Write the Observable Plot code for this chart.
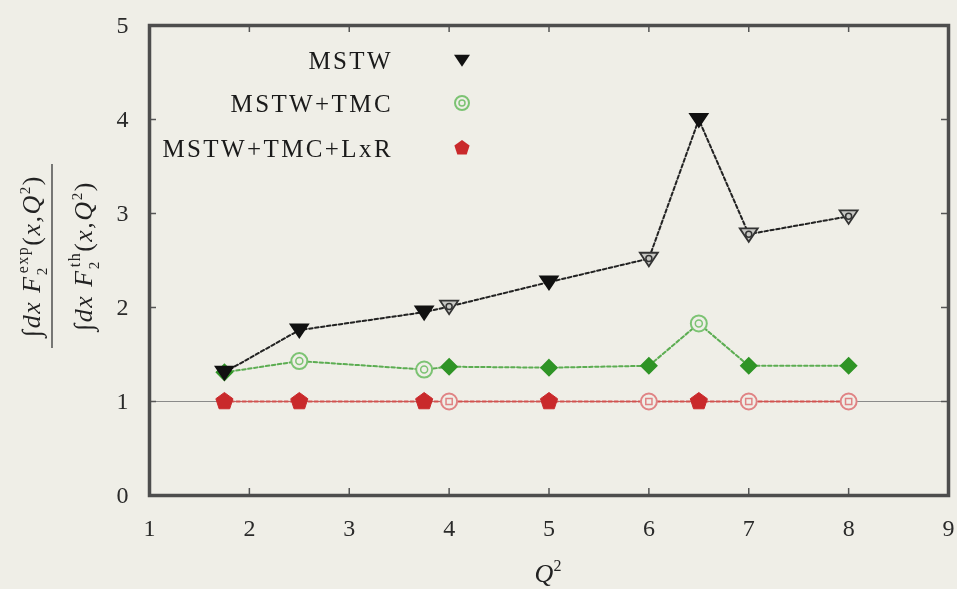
<!DOCTYPE html>
<html>
<head>
<meta charset="utf-8">
<script src="https://cdn.jsdelivr.net/npm/d3@7"></script>
<script src="https://cdn.jsdelivr.net/npm/@observablehq/plot@0.6"></script>
<style>
  html, body { margin: 0; padding: 0; background: #efeee7; }
  #chart { width: 957px; height: 589px; }
  #chart svg { display: block; }
</style>
</head>
<body>
<div id="chart"></div>
<script>
// Q^2 values and the integral ratios for each PDF setup
const q2 = [1.75, 2.5, 3.75, 4, 5, 6, 6.5, 7, 8];
const mstw = [1.31, 1.76, 1.95, 2.01, 2.27, 2.52, 4.0, 2.78, 2.97];
const mstwTmc = [1.31, 1.43, 1.34, 1.37, 1.36, 1.38, 1.83, 1.38, 1.38];
const mstwTmcLxr = [1, 1, 1, 1, 1, 1, 1, 1, 1];
// which points use solid vs open markers
const mstwSolid = [true, true, true, false, true, false, true, false, false];
const tmcSolid = [true, false, false, true, true, true, false, true, true];
const lxrSolid = [true, true, true, false, true, false, true, false, false];

const seriesNames = ["MSTW", "MSTW+TMC", "MSTW+TMC+LxR"];
const xTicks = [1, 2, 3, 4, 5, 6, 7, 8, 9];
const yTicks = [0, 1, 2, 3, 4, 5];
const xInner = [2, 3, 4, 5, 6, 7, 8];
const yInner = [1, 2, 3, 4];

const rows = (vals, solid) => q2.map((q, i) => ({q, v: vals[i], solid: solid[i]}));
const blackRows = rows(mstw, mstwSolid);
const greenRows = rows(mstwTmc, tmcSolid);
const redRows = rows(mstwTmcLxr, lxrSolid);

// custom marker shapes
const triangleDown = {
  draw(ctx, size) {
    const r = Math.sqrt(size / Math.PI);
    ctx.moveTo(-r, -0.65 * r);
    ctx.lineTo(r, -0.65 * r);
    ctx.lineTo(0, 0.85 * r);
    ctx.closePath();
  }
};
const pentagon = {
  draw(ctx, size) {
    const r = Math.sqrt(size / Math.PI);
    for (let k = 0; k < 5; k++) {
      const a = -Math.PI / 2 + k * 2 * Math.PI / 5;
      const px = r * Math.cos(a), py = r * Math.sin(a);
      if (k === 0) ctx.moveTo(px, py); else ctx.lineTo(px, py);
    }
    ctx.closePath();
  }
};
const rhombus = {
  draw(ctx, size) {
    const r = Math.sqrt(size / Math.PI);
    ctx.moveTo(0, -r);
    ctx.lineTo(r, 0);
    ctx.lineTo(0, r);
    ctx.lineTo(-r, 0);
    ctx.closePath();
  }
};

const W = 957, H = 589;
const mL = 149, mR = 9, mT = 25, mB = 94;
const innerH = H - mT - mB;
const innerW = W - mL - mR;

const dash = "3.5,2.5";

const chart = Plot.plot({
  width: W,
  height: H,
  marginLeft: mL,
  marginRight: mR,
  marginTop: mT,
  marginBottom: mB,
  x: {domain: [1, 9]},
  y: {domain: [0, 5]},
  style: {background: "transparent", fontFamily: "'Liberation Serif', serif", color: "#222", overflow: "visible", filter: "blur(0.7px)"},
  marks: [
    Plot.ruleY([1], {stroke: "#8a8a8a", strokeWidth: 1.2}),
    // inward ticks on all four sides
    Plot.tickX(xInner, {x: d => d, insetTop: innerH - 7, stroke: "#555", strokeWidth: 1.5}),
    Plot.tickX(xInner, {x: d => d, insetBottom: innerH - 7, stroke: "#555", strokeWidth: 1.5}),
    Plot.tickY(yInner, {y: d => d, insetRight: innerW - 7, stroke: "#555", strokeWidth: 1.5}),
    Plot.tickY(yInner, {y: d => d, insetLeft: innerW - 7, stroke: "#555", strokeWidth: 1.5}),

    // MSTW+TMC+LxR
    Plot.line(redRows, {x: "q", y: "v", stroke: "#d4514f", strokeWidth: 2, strokeDasharray: dash}),
    Plot.dot(redRows, {filter: d => d.solid, x: "q", y: "v", symbol: pentagon, r: 9, fill: "#c9292b", stroke: "#c9292b", strokeWidth: 1}),
    Plot.dot(redRows, {filter: d => !d.solid, x: "q", y: "v", r: 8, fill: "#efeee7", stroke: "#e08384", strokeWidth: 2}),
    Plot.dot(redRows, {filter: d => !d.solid, x: "q", y: "v", symbol: "square", r: 3.5, fill: "none", stroke: "#e08384", strokeWidth: 1.5}),

    // MSTW+TMC
    Plot.line(greenRows, {x: "q", y: "v", stroke: "#5cad52", strokeWidth: 2, strokeDasharray: dash}),
    Plot.dot(greenRows, {filter: d => d.solid, x: "q", y: "v", symbol: rhombus, r: 8, fill: "#2f9426", stroke: "#2f9426"}),
    Plot.dot(greenRows, {filter: d => !d.solid, x: "q", y: "v", r: 8, fill: "#efeee7", stroke: "#7cc373", strokeWidth: 2}),
    Plot.dot(greenRows, {filter: d => !d.solid, x: "q", y: "v", r: 3.5, fill: "none", stroke: "#7cc373", strokeWidth: 1.5}),

    // MSTW
    Plot.line(blackRows, {x: "q", y: "v", stroke: "#222", strokeWidth: 2, strokeDasharray: dash}),
    Plot.dot(blackRows, {filter: d => d.solid, x: "q", y: "v", symbol: triangleDown, r: 9, fill: "#111", stroke: "#111"}),
    Plot.dot(blackRows, {filter: d => !d.solid, x: "q", y: "v", symbol: triangleDown, r: 9, fill: "#c8c8c4", stroke: "#333", strokeWidth: 1.8}),
    Plot.dot(blackRows, {filter: d => !d.solid, x: "q", y: "v", r: 3, fill: "none", stroke: "#333", strokeWidth: 1.5}),

    Plot.frame({stroke: "#4d4d4d", strokeWidth: 3.5}),
    Plot.axisX(xTicks, {tickSize: 0, tickPadding: 23, fontSize: 24, label: null, tickFormat: d3.format("d"), fill: "#2a2a2a"}),
    Plot.axisY(yTicks, {tickSize: 0, tickPadding: 21, fontSize: 24, label: null, tickFormat: d3.format("d"), fill: "#2a2a2a"})
  ]
});

document.getElementById("chart").appendChild(chart);

const svg = d3.select(chart);
const font = "'Liberation Serif', serif";

// legend
const legend = svg.append("g").attr("font-family", font).attr("font-size", 25).attr("fill", "#1a1a1a");
const legendRows = [
  {name: seriesNames[0], y: 60, kind: "tri"},
  {name: seriesNames[1], y: 103, kind: "circ"},
  {name: seriesNames[2], y: 148, kind: "pent"}
];
legendRows.forEach(row => {
  legend.append("text").attr("x", 393).attr("y", row.y).attr("dy", "0.35em")
    .attr("text-anchor", "end").attr("letter-spacing", "2.4").text(row.name);
  const g = legend.append("g").attr("transform", `translate(462,${row.y})`);
  if (row.kind === "tri") {
    g.append("path").attr("d", d3.symbol(triangleDown, Math.PI * 64)()).attr("fill", "#111");
  } else if (row.kind === "circ") {
    g.append("circle").attr("r", 7).attr("fill", "#efeee7").attr("stroke", "#7cc373").attr("stroke-width", 2);
    g.append("circle").attr("r", 3).attr("fill", "none").attr("stroke", "#7cc373").attr("stroke-width", 1.5);
  } else {
    g.append("path").attr("d", d3.symbol(pentagon, Math.PI * 64)()).attr("fill", "#c9292b");
  }
});

// x-axis title
const xt = svg.append("text").attr("x", 548).attr("y", 582).attr("text-anchor", "middle")
  .attr("font-family", font).attr("font-size", 26).attr("fill", "#222");
xt.append("tspan").attr("font-style", "italic").text("Q");
xt.append("tspan").attr("font-size", 16).attr("dy", -11).text("2");

// y-axis title: ratio of integrals
const yt = svg.append("g").attr("transform", "translate(52,256) rotate(-90)")
  .attr("font-family", font).attr("fill", "#222");
yt.append("line").attr("x1", -92).attr("x2", 92).attr("y1", 0).attr("y2", 0)
  .attr("stroke", "#444").attr("stroke-width", 1.4);
function integral(y, sup) {
  const t = yt.append("text").attr("x", 0).attr("y", y).attr("text-anchor", "middle")
    .attr("font-size", 26).attr("letter-spacing", "1.5");
  t.append("tspan").text("\u222B");
  t.append("tspan").attr("font-style", "italic").text("dx F");
  t.append("tspan").attr("font-size", 15).attr("dy", 7).text("2");
  t.append("tspan").attr("font-size", 16).attr("dx", -7).attr("dy", -19).text(sup);
  t.append("tspan").attr("dy", 12).text("(");
  t.append("tspan").attr("font-style", "italic").text("x,Q");
  t.append("tspan").attr("font-size", 15).attr("dy", -10).text("2");
  t.append("tspan").attr("dy", 10).text(")");
}
integral(-12, "exp");
integral(40, "th");
</script>
</body>
</html>
